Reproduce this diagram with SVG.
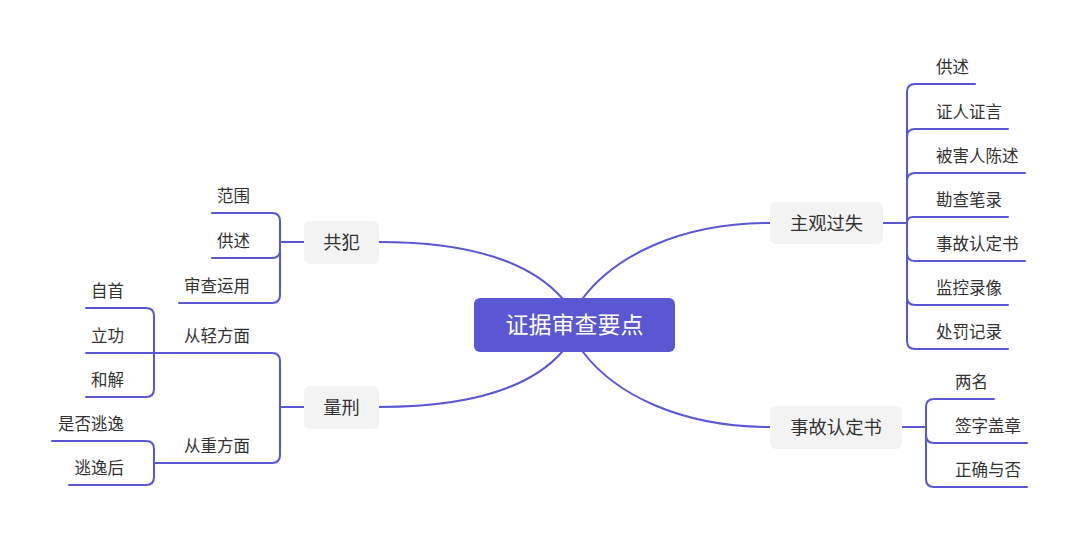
<svg xmlns="http://www.w3.org/2000/svg" width="1080" height="541" viewBox="0 0 1080 541">
<style>
.ln{fill:none;stroke:#5B57D3;stroke-width:2;stroke-linecap:round}
.t{font-family:"Noto Sans CJK SC","Noto Sans",sans-serif;fill:#333333;dominant-baseline:central}
.s{font-size:16.5px}
.m{font-size:18.3px;text-anchor:middle}
.l{text-anchor:end}
.box{fill:#F3F3F3}
</style>
<rect width="1080" height="541" fill="#FFFFFF"/>
<g id="connectors">
<path class="ln" d="M562,298 C530,262 470,242 379,242"/>
<path class="ln" d="M562,352 C530,388 470,407 379,407"/>
<path class="ln" d="M583,298 C615,256 680,223 770,223"/>
<path class="ln" d="M583,352 C615,394 680,427 770,427"/>
<!-- 共犯 -->
<path class="ln" d="M304,242 H280"/>
<path class="ln" d="M280,242 V221 Q280,213 272,213 H212"/>
<path class="ln" d="M280,242 V250 Q280,258 272,258 H212"/>
<path class="ln" d="M280,242 V295 Q280,303 272,303 H179"/>
<!-- 量刑 -->
<path class="ln" d="M304,407 H280"/>
<path class="ln" d="M280,407 V361 Q280,353 272,353 H154"/>
<path class="ln" d="M280,407 V455 Q280,463 272,463 H154"/>
<path class="ln" d="M154,353 V316 Q154,308 146,308 H86"/>
<path class="ln" d="M154,353 H86"/>
<path class="ln" d="M154,353 V389 Q154,397 146,397 H86"/>
<path class="ln" d="M154,463 V449 Q154,441 146,441 H52"/>
<path class="ln" d="M154,463 V477 Q154,485 146,485 H69"/>
<!-- 主观过失 -->
<path class="ln" d="M883,223 H907"/>
<path class="ln" d="M907,223 V92 Q907,84 915,84 H975"/>
<path class="ln" d="M907,223 V137 Q907,129 915,129 H1008"/>
<path class="ln" d="M907,223 V181 Q907,173 915,173 H1025"/>
<path class="ln" d="M907,223 V223 Q907,217 913,217 H1008"/>
<path class="ln" d="M907,223 V253 Q907,261 915,261 H1025"/>
<path class="ln" d="M907,223 V297 Q907,305 915,305 H1008"/>
<path class="ln" d="M907,223 V341 Q907,349 915,349 H1008"/>
<!-- 事故认定书 -->
<path class="ln" d="M902,427 H926"/>
<path class="ln" d="M926,427 V407 Q926,399 934,399 H994"/>
<path class="ln" d="M926,427 V435 Q926,443 934,443 H1027"/>
<path class="ln" d="M926,427 V479 Q926,487 934,487 H1027"/>
</g>
<g id="root">
<rect x="474" y="298" width="201" height="54" rx="6" fill="#5B57D3"/>
<text class="t" x="574.5" y="323" font-size="23" text-anchor="middle" style="fill:#FFFFFF">证据审查要点</text>
</g>
<g id="gongfan">
<rect class="box" x="304" y="221" width="75" height="43" rx="6"/>
<text class="t m" x="341.5" y="241">共犯</text>
</g>
<g id="gongfan-fanwei"><text class="t s l" x="250" y="195">范围</text></g>
<g id="gongfan-gongshu"><text class="t s l" x="250" y="240">供述</text></g>
<g id="gongfan-shencha"><text class="t s l" x="250" y="285">审查运用</text></g>
<g id="liangxing">
<rect class="box" x="304" y="386" width="75" height="43" rx="6"/>
<text class="t m" x="341.5" y="406">量刑</text>
</g>
<g id="congqing"><text class="t s l" x="250" y="335">从轻方面</text></g>
<g id="zishou"><text class="t s l" x="124" y="290">自首</text></g>
<g id="ligong"><text class="t s l" x="124" y="335">立功</text></g>
<g id="hejie"><text class="t s l" x="124" y="379">和解</text></g>
<g id="congzhong"><text class="t s l" x="250" y="445">从重方面</text></g>
<g id="shifoutaoyi"><text class="t s l" x="124" y="423">是否逃逸</text></g>
<g id="taoyihou"><text class="t s l" x="124" y="467">逃逸后</text></g>
<g id="zhuguan">
<rect class="box" x="770" y="202" width="113" height="42" rx="6"/>
<text class="t m" x="826.5" y="222">主观过失</text>
</g>
<g id="zg-gongshu"><text class="t s" x="936" y="66">供述</text></g>
<g id="zg-zhengren"><text class="t s" x="936" y="111">证人证言</text></g>
<g id="zg-beihairen"><text class="t s" x="936" y="155">被害人陈述</text></g>
<g id="zg-kancha"><text class="t s" x="936" y="199">勘查笔录</text></g>
<g id="zg-shigu"><text class="t s" x="936" y="243">事故认定书</text></g>
<g id="zg-jiankong"><text class="t s" x="936" y="287">监控录像</text></g>
<g id="zg-chufa"><text class="t s" x="936" y="331">处罚记录</text></g>
<g id="shigu">
<rect class="box" x="770" y="406" width="132" height="43" rx="6"/>
<text class="t m" x="836" y="426">事故认定书</text>
</g>
<g id="sg-liangming"><text class="t s" x="955" y="381">两名</text></g>
<g id="sg-qianzi"><text class="t s" x="955" y="425">签字盖章</text></g>
<g id="sg-zhengque"><text class="t s" x="955" y="469">正确与否</text></g>
</svg>
